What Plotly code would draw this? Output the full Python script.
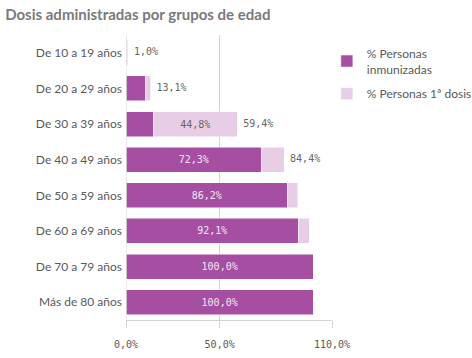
import plotly.graph_objects as go

categories = ["De 10 a 19 años", "De 20 a 29 años", "De 30 a 39 años", "De 40 a 49 años",
              "De 50 a 59 años", "De 60 a 69 años", "De 70 a 79 años", "Más de 80 años"]
inmunizadas = [0.0, 10.3, 14.6, 72.3, 86.2, 92.1, 100.0, 100.0]
primera_dosis = [1.0, 13.1, 59.4, 84.4, 91.7, 97.9, 100.0, 100.0]
tick_vals = [0, 50, 110]
tick_text = ["0,0%", "50,0%", "110,0%"]

solo_primera = [round(p - i, 1) for p, i in zip(primera_dosis, inmunizadas)]
total_text = [(" " + f"{p:.1f}%".replace(".", ",")) if p < 88 else "" for p in primera_dosis]

DARK = "#a54ea2"
LIGHT = "#e7cee6"
GRID = "#d3d3d3"
TXT = "#595959"
NUM_FONT = "DejaVu Sans Mono"

fig = go.Figure()
fig.add_trace(go.Bar(
    y=categories, x=inmunizadas, orientation="h", name="% Personas<br>inmunizadas",
    legendgroup="inm",
    marker=dict(color=DARK, line=dict(color="white", width=0.5)),
    texttemplate="%{x:.1f}%", textposition="inside", insidetextanchor="middle",
    textfont=dict(family=NUM_FONT, size=10, color="#f3e6f2"),
))
fig.add_trace(go.Bar(
    y=categories, x=solo_primera, orientation="h", name="% Personas 1ª dosis",
    legendgroup="pri",
    marker=dict(color=LIGHT, line=dict(color="white", width=0.5)),
    texttemplate="%{x:.1f}%", textposition="inside", insidetextanchor="middle",
    textfont=dict(family=NUM_FONT, size=10, color="#666666"),
))
fig.add_trace(go.Scatter(
    y=categories, x=primera_dosis, mode="text", text=total_text,
    textposition="middle right", showlegend=False, hoverinfo="skip",
    textfont=dict(family=NUM_FONT, size=10, color="#666666"),
))

fig.update_layout(
    width=472, height=358, barmode="stack", bargap=0.3,
    separators=",.",
    uniformtext=dict(minsize=10, mode="hide"),
    plot_bgcolor="white", paper_bgcolor="white",
    margin=dict(l=126, r=140, t=35, b=38, autoexpand=False),
    title=dict(text="Dosis administradas por grupos de edad", xref="container", x=0.011,
               xanchor="left", yref="container", y=0.958, yanchor="middle",
               pad=dict(l=0, r=0, t=0, b=0),
               font=dict(family="Lato", size=15, color="#7a7a7a", weight="bold")),
    font=dict(family="Lato", size=12, color=TXT),
    legend=dict(x=0.975, xanchor="left", y=0.986, yanchor="top", bgcolor="rgba(0,0,0,0)",
                font=dict(family="Lato", size=12, color=TXT), traceorder="grouped",
                tracegroupgap=6, itemwidth=30),
    xaxis=dict(range=[0, 110], tickvals=tick_vals, ticktext=tick_text, showgrid=True,
               gridcolor=GRID, gridwidth=1, zeroline=False, showline=True, linecolor=GRID,
               ticks="outside", ticklen=7, tickcolor=GRID, automargin=False,
               ticklabelstandoff=8,
               tickfont=dict(family=NUM_FONT, size=10, color=TXT), fixedrange=True),
    yaxis=dict(autorange="reversed", showgrid=False, ticks="", showline=False,
               automargin=False, ticklabelstandoff=3,
               tickfont=dict(family="Lato", size=12, color=TXT), fixedrange=True),
)
fig.add_shape(type="line", xref="x", yref="paper", x0=0, x1=0, y0=0, y1=1,
              line=dict(color=GRID, width=1))

fig.write_html("out.html", config={"displayModeBar": False},
               post_script="document.body.style.margin='0';")
